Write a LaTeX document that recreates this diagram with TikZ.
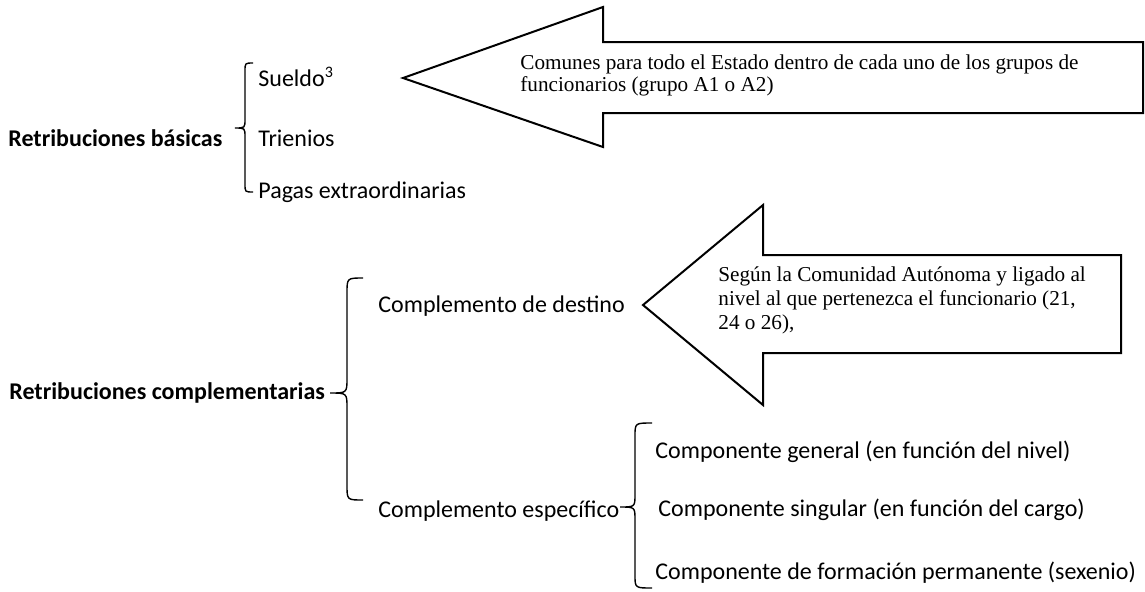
\documentclass[tikz,border=0pt]{standalone}
\usepackage{fontspec}
\setmainfont{Carlito}
\newfontfamily\timesfont{Liberation Serif}
\usepackage{tikz}

\begin{document}
\begin{tikzpicture}[x=0.5pt,y=-0.5pt,
item/.style={anchor=base west,inner sep=0pt,font=\fontsize{12}{14}\selectfont},
title/.style={item,font=\fontsize{12}{14}\selectfont\bfseries},
note/.style={anchor=north west,align=left,inner sep=0pt,font=\timesfont\fontsize{10.6}{11}\selectfont},
callout/.style={draw,line width=1pt,line join=miter},
brace/.style={line width=0.7pt}]
\useasboundingbox(0,0)rectangle(1145,591);
%arrows with the notes
\draw[callout](403,78)--(603,7)--(603,42)--(1143,42)--(1143,113)--(603,113)--(603,147)--cycle;
\draw[callout](643,305)--(763,205)--(763,255)--(1121,255)--(1121,353)--(763,353)--(763,405)--cycle;
\draw(520,54)node[note](comunes){Comunes para todo el Estado dentro de cada uno de los grupos de\\funcionarios (grupo A1 o A2)};
\draw(718,266)node[note,font=\timesfont\fontsize{10.6}{12.2}\selectfont](segun){Según la Comunidad Autónoma y ligado al\\nivel al que pertenezca el funcionario (21,\\24 o 26),};
%braces
\draw[brace](253,63)..controls(245,63)..(245,71)--(245,119)..controls(245,128)..(235,128)..controls(245,128)..(245,137)--(245,184)..controls(245,192)..(253,192);
\draw[brace](363,278)..controls(347,278)..(347,293)--(347,378)..controls(347,393)..(330,393)..controls(347,393)..(347,408)--(347,485)..controls(347,500)..(363,500);
\draw[brace](652,423)..controls(635,423)..(635,436)--(635,494)..controls(635,507)..(620,507)..controls(635,507)..(635,520)--(635,575)..controls(635,588)..(652,588);
%labels
\draw(8,146)node[title](basicas){Retribuciones básicas}
(258,86)node[item](sueldo){Sueldo\textsuperscript{3}}
(258,146)node[item](trienios){Trienios}
(258,198)node[item](pagas){Pagas extraordinarias};
\draw(9,399)node[title](complem){Retribuciones complementarias}
(378,312)node[item](destino){Complemento de destino}
(378,517)node[item](especifico){Complemento específico};
\draw(655,458)node[item](general){Componente general (en función del nivel)}
(658,516)node[item](singular){Componente singular (en función del cargo)}
(655,579)node[item](formacion){Componente de formación permanente (sexenio)};
\end{tikzpicture}
\end{document}
